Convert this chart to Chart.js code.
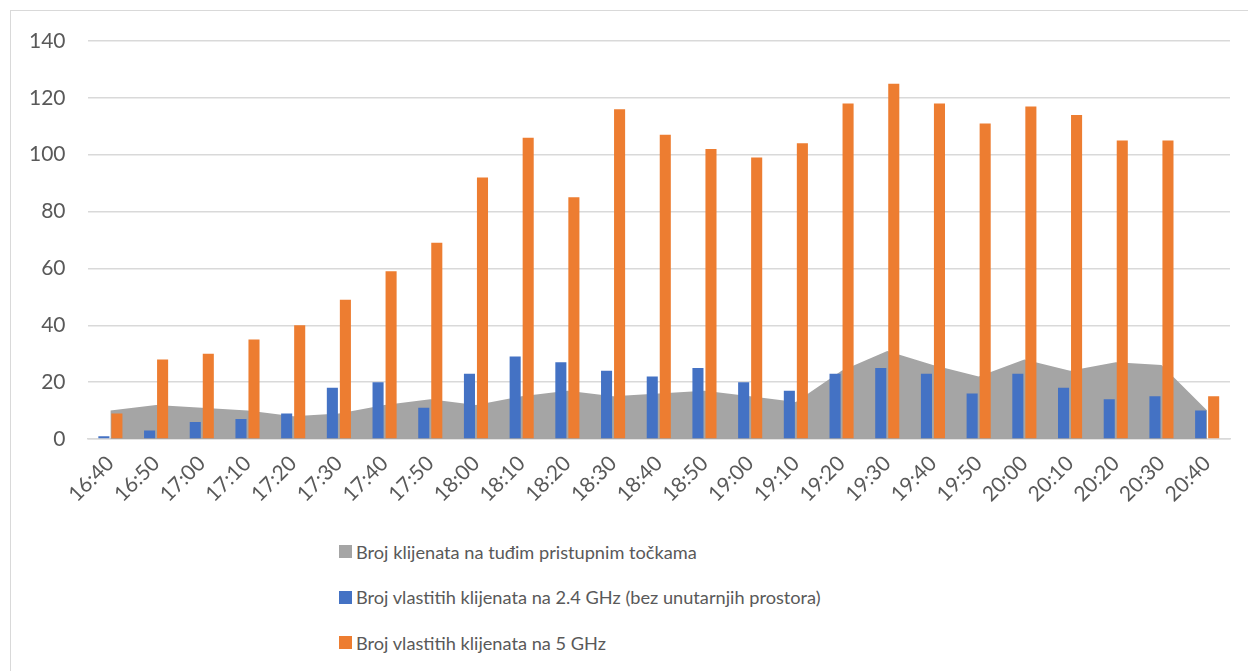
<!DOCTYPE html>
<html>
<head>
<meta charset="utf-8">
<script src="https://cdn.jsdelivr.net/npm/chart.js@4.4.1/dist/chart.umd.min.js"></script>
<style>
  body { margin: 0; background: #fff; }
  #frame { position: absolute; left: 10px; top: 10px; width: 1250px; height: 670px; border: 1px solid #d9d9d9; }
  #wrap { position: absolute; left: 0; top: 0; width: 1248px; height: 525px; }
  #legend { position: absolute; left: 339px; top: 529px; font-family: Lato, sans-serif; font-size: 18.2px; color: #595959; }
  .item { height: 45.5px; display: flex; align-items: center; }
  .sw { width: 13px; height: 13px; margin-right: 4px; }
</style>
</head>
<body>
<div id="frame"></div>
<div id="wrap"><canvas id="chart" width="1248" height="525"></canvas></div>
<div id="legend"></div>
<script>
const labels = ['16:40', '16:50', '17:00', '17:10', '17:20', '17:30', '17:40', '17:50', '18:00', '18:10',
    '18:20', '18:30', '18:40', '18:50', '19:00', '19:10', '19:20', '19:30', '19:40', '19:50',
    '20:00', '20:10', '20:20', '20:30', '20:40'];
const foreignAP = [10, 12, 11, 10, 8, 9, 12, 14, 12, 15, 17, 15, 16, 17, 15, 13, 24, 31, 26, 22, 28, 24, 27, 26, 10];
const own24 = [1, 3, 6, 7, 9, 18, 20, 11, 23, 29, 27, 24, 22, 25, 20, 17, 23, 25, 23, 16, 23, 18, 14, 15, 10];
const own5 = [9, 28, 30, 35, 40, 49, 59, 69, 92, 106, 85, 116, 107, 102, 99, 104, 118, 125, 118, 111, 117, 114, 105, 105, 15];
const yTicks = [0, 20, 40, 60, 80, 100, 120, 140];

const seriesNames = [
    'Broj klijenata na tuđim pristupnim točkama',
    'Broj vlastitih klijenata na 2.4 GHz (bez unutarnjih prostora)',
    'Broj vlastitih klijenata na 5 GHz'
];
const colors = ['#a5a5a5', '#4472c4', '#ed7d31'];

const font = 'Lato, sans-serif';

new Chart(document.getElementById('chart').getContext('2d'), {
    type: 'bar',
    data: {
        labels: labels,
        datasets: [{
            type: 'line',
            label: seriesNames[0],
            data: foreignAP,
            borderColor: colors[0],
            backgroundColor: colors[0],
            borderWidth: 0,
            fill: 'origin',
            tension: 0,
            pointRadius: 0,
            order: 2
        }, {
            label: seriesNames[1],
            data: own24,
            backgroundColor: colors[1],
            categoryPercentage: 0.57,
            barPercentage: 0.85,
            order: 1
        }, {
            label: seriesNames[2],
            data: own5,
            backgroundColor: colors[2],
            categoryPercentage: 0.57,
            barPercentage: 0.85,
            order: 1
        }]
    },
    options: {
        responsive: false,
        animation: false,
        layout: { padding: { left: 7, right: 18, top: 41, bottom: 14 } },
        scales: {
            x: {
                grid: { display: false },
                border: { display: true, color: '#d9d9d9', width: 1.5 },
                ticks: {
                    color: '#595959',
                    font: { family: font, size: 21 },
                    minRotation: 45,
                    maxRotation: 45,
                    autoSkip: false,
                    padding: 4
                }
            },
            y: {
                min: 0,
                max: 140,
                afterBuildTicks: axis => { axis.ticks = yTicks.map(v => ({ value: v })); },
                grid: { color: '#d9d9d9', lineWidth: 1.5, drawTicks: false },
                border: { display: false },
                ticks: {
                    color: '#595959',
                    font: { family: font, size: 21 },
                    padding: 22
                }
            }
        },
        plugins: {
            legend: { display: false },
            tooltip: { enabled: false }
        }
    }
});

const legend = document.getElementById('legend');
seriesNames.forEach((name, i) => {
    const row = document.createElement('div');
    row.className = 'item';
    row.innerHTML = '<span class="sw" style="background:' + colors[i] + '"></span><span>' + name + '</span>';
    legend.appendChild(row);
});
</script>
</body>
</html>
